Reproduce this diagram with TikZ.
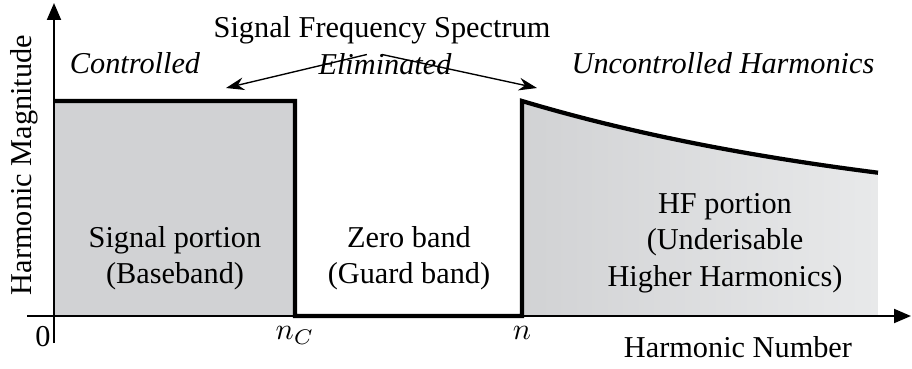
\documentclass[tikz,border=0pt]{standalone}
\usepackage{fontspec}
\setmainfont{Liberation Serif}
\usetikzlibrary{arrows.meta}

\definecolor{bandgray}{RGB}{209,210,212}
\definecolor{fadegray}{RGB}{232,233,234}

\begin{document}
\begin{tikzpicture}[
      x=0.33pt, y=0.33pt,
      >={Triangle[length=5.6pt,width=4.6pt]},
      axis/.style={->, line width=0.7pt},
      band/.style={line width=1.4pt, line join=miter},
      note/.style={-{Stealth[length=6pt,width=4.2pt]}, line width=0.45pt},
      region/.style={font=\itshape},
      txt/.style={align=center}
    ]
    \useasboundingbox (0,0) rectangle (912,368);

    % Shaded portions of the spectrum
    \fill[bandgray] (54,52) rectangle (295,267);
    \shade[left color=bandgray, right color=fadegray]
      (522,52) -- plot[domain=522:878, samples=40]
      (\x, {142+125*exp(-0.0024*(\x-522))}) -- (878,52) -- cycle;

    % Axes
    \coordinate (origin) at (54,52);
    \coordinate (xstart) at (27,52);
    \coordinate (xend) at (911,52);
    \coordinate (ystart) at (54,25);
    \coordinate (yend) at (54,365);
    \draw[axis] (xstart) -- (xend);
    \draw[axis] (ystart) -- (yend);

    % Spectrum outline
    \coordinate (nc) at (295,52);
    \coordinate (n) at (522,52);
    \draw[band] (54,267) -- (295,267) -- (nc) -- (n) -- (522,267)
      -- plot[domain=522:878, samples=40]
      (\x, {142+125*exp(-0.0024*(\x-522))});

    % Axis labels
    \node[rotate=90] (ylabel) at (24,203) {Harmonic Magnitude};
    \node (xlabel) at (738,21) {Harmonic Number};
    \node[below] (zero) at (43,52) {0};
    \node[below] (nclabel) at (nc) {$n_C$};
    \node[below] (nlabel) at (n) {$n$};

    % Band labels
    \node[txt] (signal) at (175,110) {Signal portion\\(Baseband)};
    \node[txt] (zeroband) at (409,110) {Zero band\\(Guard band)};
    \node[txt] (hf) at (725,125) {HF portion\\(Underisable\\Higher Harmonics)};

    % Region titles
    \node[region] (ctl) at (135,305) {Controlled};
    \node[region] (eli) at (385,304) {Eliminated};
    \node[region] (unc) at (723,305) {Uncontrolled Harmonics};
    \node (title) at (382,338) {Signal Frequency Spectrum};

    % Pointers from the title
    \coordinate (ctltip) at (226,280);
    \coordinate (unctip) at (537,280);
    \draw[note] ([xshift=-5pt]title.south) -- (ctltip);
    \draw[note] (title.south) -- (unctip);

  \end{tikzpicture}
\end{document}
